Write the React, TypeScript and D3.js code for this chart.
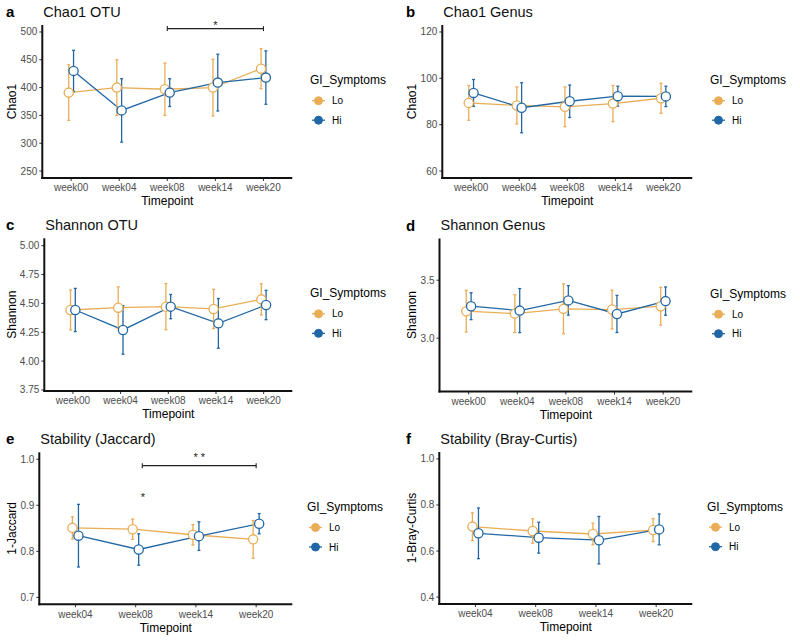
import React from "react";
import * as d3 from "d3";

const weeks5 = ["week00", "week04", "week08", "week14", "week20"];
const weeks4 = ["week04", "week08", "week14", "week20"];
const groups = ["Lo", "Hi"];

const chao1OtuLo = [391, 400, 397, 400, 434];
const chao1OtuLoSe = [50, 50, 47, 51, 36];
const chao1OtuHi = [430, 359, 391, 409, 418];
const chao1OtuHiSe = [37, 57, 25, 51, 48];
const chao1OtuTicks = [250, 300, 350, 400, 450, 500];

const chao1GenusLo = [89.4, 88.3, 87.7, 89.1, 91.4];
const chao1GenusLoSe = [7.5, 8, 8.6, 7.8, 6.5];
const chao1GenusHi = [93.7, 87.3, 90.1, 92.3, 92.2];
const chao1GenusHiSe = [5.8, 10.8, 7, 4.3, 4.4];
const chao1GenusTicks = [60, 80, 100, 120];

const shannonOtuLo = [4.443, 4.463, 4.472, 4.452, 4.535];
const shannonOtuLoSe = [0.173, 0.18, 0.2, 0.17, 0.135];
const shannonOtuHi = [4.443, 4.27, 4.472, 4.327, 4.486];
const shannonOtuHiSe = [0.187, 0.21, 0.105, 0.215, 0.127];
const shannonOtuTicks = [3.75, 4.0, 4.25, 4.5, 4.75, 5.0];

const shannonGenusLo = [3.233, 3.212, 3.253, 3.247, 3.276];
const shannonGenusLoSe = [0.18, 0.163, 0.215, 0.167, 0.163];
const shannonGenusHi = [3.276, 3.238, 3.326, 3.209, 3.32];
const shannonGenusHiSe = [0.116, 0.19, 0.127, 0.16, 0.122];
const shannonGenusTicks = [3.0, 3.5];

const jaccardLo = [0.851, 0.848, 0.836, 0.826];
const jaccardLoSe = [0.024, 0.022, 0.022, 0.041];
const jaccardHi = [0.834, 0.804, 0.833, 0.86];
const jaccardHiSe = [0.068, 0.034, 0.031, 0.022];
const jaccardTicks = [0.7, 0.8, 0.9, 1.0];

const brayLo = [0.706, 0.687, 0.674, 0.691];
const brayLoSe = [0.06, 0.053, 0.047, 0.05];
const brayHi = [0.677, 0.658, 0.647, 0.694];
const brayHiSe = [0.11, 0.067, 0.103, 0.067];
const brayTicks = [0.4, 0.6, 0.8, 1.0];

const COLORS: Record<string, string> = { Lo: "#E9AD55", Hi: "#2267A5" };
const FONT = "'Liberation Sans', Arial, Helvetica, sans-serif";

type Bracket = { from: number; to: number; y: number; label: string; labelY: number };
type Star = { at: number; y: number; label: string };

type Panel = {
  letter: string;
  title: string;
  ylab: string;
  cats: string[];
  lo: number[];
  loSe: number[];
  hi: number[];
  hiSe: number[];
  domain: [number, number];
  ticks: number[];
  fmt: (v: number) => string;
  left: number;
  right: number;
  top: number;
  bottom: number;
  ox: number;
  legendX: number;
  brackets: Bracket[];
  stars: Star[];
};

const panels: Panel[] = [
  {
    letter: "a", title: "Chao1 OTU", ylab: "Chao1", cats: weeks5,
    lo: chao1OtuLo, loSe: chao1OtuLoSe, hi: chao1OtuHi, hiSe: chao1OtuHiSe,
    domain: [237.5, 512.5], ticks: chao1OtuTicks, fmt: d3.format("d"),
    left: 42.3, right: 292.3, top: 25, bottom: 178, ox: 0, legendX: 310,
    brackets: [{ from: 2, to: 4, y: 506, label: "*", labelY: 517 }], stars: [],
  },
  {
    letter: "b", title: "Chao1 Genus", ylab: "Chao1", cats: weeks5,
    lo: chao1GenusLo, loSe: chao1GenusLoSe, hi: chao1GenusHi, hiSe: chao1GenusHiSe,
    domain: [57, 123], ticks: chao1GenusTicks, fmt: d3.format("d"),
    left: 442.3, right: 692.3, top: 25, bottom: 178, ox: 400, legendX: 710,
    brackets: [], stars: [],
  },
  {
    letter: "c", title: "Shannon OTU", ylab: "Shannon", cats: weeks5,
    lo: shannonOtuLo, loSe: shannonOtuLoSe, hi: shannonOtuHi, hiSe: shannonOtuHiSe,
    domain: [3.741, 5.064], ticks: shannonOtuTicks, fmt: d3.format(".2f"),
    left: 44.3, right: 292.3, top: 238.3, bottom: 391, ox: 0, legendX: 310,
    brackets: [], stars: [],
  },
  {
    letter: "d", title: "Shannon Genus", ylab: "Shannon", cats: weeks5,
    lo: shannonGenusLo, loSe: shannonGenusLoSe, hi: shannonGenusHi, hiSe: shannonGenusHiSe,
    domain: [2.54, 3.86], ticks: shannonGenusTicks, fmt: d3.format(".1f"),
    left: 439.5, right: 692.3, top: 238.5, bottom: 391.5, ox: 400, legendX: 710,
    brackets: [], stars: [],
  },
  {
    letter: "e", title: "Stability (Jaccard)", ylab: "1-Jaccard", cats: weeks4,
    lo: jaccardLo, loSe: jaccardLoSe, hi: jaccardHi, hiSe: jaccardHiSe,
    domain: [0.685, 1.015], ticks: jaccardTicks, fmt: d3.format(".1f"),
    left: 39.3, right: 292.3, top: 452.3, bottom: 604.3, ox: 0, legendX: 307,
    brackets: [{ from: 1.11, to: 3, y: 0.986, label: "* *", labelY: 1.011 }],
    stars: [{ at: 1.12, y: 0.9235, label: "*" }],
  },
  {
    letter: "f", title: "Stability (Bray-Curtis)", ylab: "1-Bray-Curtis", cats: weeks4,
    lo: brayLo, loSe: brayLoSe, hi: brayHi, hiSe: brayHiSe,
    domain: [0.37, 1.03], ticks: brayTicks, fmt: d3.format(".1f"),
    left: 439.3, right: 692.3, top: 452, bottom: 604, ox: 400, legendX: 707,
    brackets: [], stars: [],
  },
];

function PanelView({ p }: { p: Panel }) {
  const x = d3.scalePoint<string>().domain(p.cats).range([p.left, p.right]).padding(0.6);
  const step = x.step();
  const xi = (i: number) => (x(p.cats[0]) as number) + i * step;
  const y = d3.scaleLinear().domain(p.domain).range([p.bottom, p.top]);
  const dodge = 0.05 * step;
  const mid = (p.top + p.bottom) / 2;

  const series = groups.map((g) => {
    const vals = g === "Lo" ? p.lo : p.hi;
    const se = g === "Lo" ? p.loSe : p.hiSe;
    const off = g === "Lo" ? -dodge : dodge;
    return {
      g,
      pts: p.cats.map((c, i) => ({ cx: (x(c) as number) + off, v: vals[i], se: se[i] })),
    };
  });

  const line = d3
    .line<{ cx: number; v: number }>()
    .x((d) => d.cx)
    .y((d) => y(d.v));

  return (
    <g>
      {/* letter + title */}
      <text x={p.ox + 6} y={p.top - 13.3} dy="0.36em" fontSize={15} fontWeight="bold" fill="#000">
        {p.letter}
      </text>
      <text x={p.left + 1} y={p.top - 13.3} dy="0.36em" fontSize={14.5} fill="#111">
        {p.title}
      </text>

      {/* y ticks */}
      {p.ticks.map((t) => (
        <g key={t}>
          <line x1={p.left - 3} x2={p.left} y1={y(t)} y2={y(t)} stroke="#333" strokeWidth={1} />
          <text x={p.left - 5} y={y(t)} dy="0.35em" textAnchor="end" fontSize={10} fill="#4D4D4D">
            {p.fmt(t)}
          </text>
        </g>
      ))}
      {/* x ticks */}
      {p.cats.map((c) => (
        <g key={c}>
          <line x1={x(c)} x2={x(c)} y1={p.bottom} y2={p.bottom + 3} stroke="#333" strokeWidth={1} />
          <text x={x(c)} y={p.bottom + 9.7} dy="0.35em" textAnchor="middle" fontSize={10} fill="#4D4D4D">
            {c}
          </text>
        </g>
      ))}
      {/* axis lines */}
      <line x1={p.left} x2={p.left} y1={p.top} y2={p.bottom + 1} stroke="#111" strokeWidth={2} />
      <line x1={p.left - 1} x2={p.right} y1={p.bottom} y2={p.bottom} stroke="#111" strokeWidth={2} />

      {/* axis titles */}
      <text x={(p.left + p.right) / 2} y={p.bottom + 23} dy="0.35em" textAnchor="middle" fontSize={12} fill="#000">
        Timepoint
      </text>
      <text
        transform={`translate(${p.ox + 11.7},${mid}) rotate(-90)`}
        dy="0.35em"
        textAnchor="middle"
        fontSize={12}
        fill="#000"
      >
        {p.ylab}
      </text>

      {/* lines */}
      {series.map((s) => (
        <path key={s.g} d={line(s.pts) || ""} fill="none" stroke={COLORS[s.g]} strokeWidth={1.3} />
      ))}
      {/* error bars */}
      {series.map((s) =>
        s.pts.map((d, i) => (
          <g key={s.g + i} stroke={COLORS[s.g]} strokeWidth={1.3}>
            <line x1={d.cx} x2={d.cx} y1={y(d.v - d.se)} y2={y(d.v + d.se)} />
            <line x1={d.cx - 1.5} x2={d.cx + 1.5} y1={y(d.v - d.se)} y2={y(d.v - d.se)} />
            <line x1={d.cx - 1.5} x2={d.cx + 1.5} y1={y(d.v + d.se)} y2={y(d.v + d.se)} />
          </g>
        ))
      )}
      {/* points */}
      {series.map((s) =>
        s.pts.map((d, i) => (
          <circle key={s.g + "p" + i} cx={d.cx} cy={y(d.v)} r={4.6} fill="#fff" stroke={COLORS[s.g]} strokeWidth={1.3} />
        ))
      )}

      {/* significance */}
      {p.brackets.map((b, i) => {
        const x1 = xi(b.from);
        const x2 = xi(b.to);
        const by = y(b.y);
        return (
          <g key={"b" + i}>
            <line x1={x1} x2={x2} y1={by} y2={by} stroke="#222" strokeWidth={1.1} />
            <line x1={x1} x2={x1} y1={by - 2.5} y2={by + 2.5} stroke="#222" strokeWidth={1.1} />
            <line x1={x2} x2={x2} y1={by - 2.5} y2={by + 2.5} stroke="#222" strokeWidth={1.1} />
            <text x={(x1 + x2) / 2} y={y(b.labelY) + 6.5} textAnchor="middle" fontSize={11} fill="#222">
              {b.label}
            </text>
          </g>
        );
      })}
      {p.stars.map((s, i) => (
        <text key={"s" + i} x={xi(s.at)} y={y(s.y) + 6.5} textAnchor="middle" fontSize={11} fill="#222">
          {s.label}
        </text>
      ))}

      {/* legend */}
      <text x={p.legendX} y={mid - 21.5} dy="0.35em" fontSize={12} fill="#000">
        GI_Symptoms
      </text>
      {groups.map((g, i) => {
        const ly = mid - 0.8 + i * 19.5;
        return (
          <g key={g}>
            <line x1={p.legendX + 2} x2={p.legendX + 15} y1={ly} y2={ly} stroke={COLORS[g]} strokeWidth={1.3} />
            <circle cx={p.legendX + 8.5} cy={ly} r={4} fill={COLORS[g]} stroke={COLORS[g]} />
            <text x={p.legendX + 22} y={ly} dy="0.35em" fontSize={10} fill="#000">
              {g}
            </text>
          </g>
        );
      })}
    </g>
  );
}

export default function App() {
  return (
    <div style={{ position: "fixed", left: 0, top: 0 }}>
      <svg width={800} height={640} style={{ display: "block", background: "#fff" }} fontFamily={FONT}>
        <rect width={800} height={640} fill="#fff" />
        {panels.map((p) => (
          <PanelView key={p.letter} p={p} />
        ))}
      </svg>
    </div>
  );
}
